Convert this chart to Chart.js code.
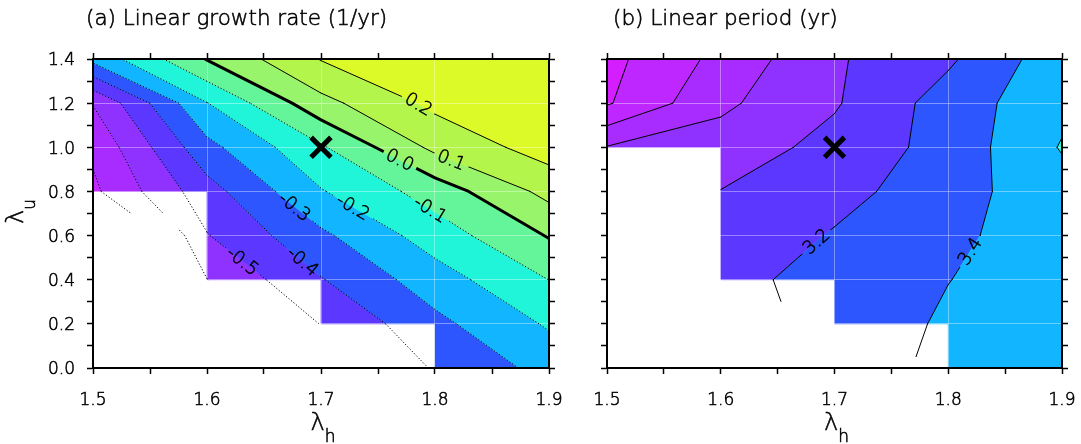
<!DOCTYPE html>
<html><head><meta charset="utf-8"><title>Linear growth rate and linear period</title>
<script src="https://cdn.jsdelivr.net/npm/chart.js@4.4.1/dist/chart.umd.min.js"></script>
<style>
html,body{margin:0;padding:0;background:#fff;}
body{width:1081px;height:444px;position:relative;overflow:hidden;}
canvas{position:absolute;top:0;}
#chartA{left:0;}
#chartB{left:560px;}
</style></head><body>
<canvas id="chartA" width="590" height="444"></canvas>
<canvas id="chartB" width="521" height="444"></canvas>
<script>
// ---------------- data ----------------
const lambdaH = [1.5, 1.6, 1.7, 1.8, 1.9];
const lambdaU = [0.0, 0.2, 0.4, 0.6, 0.8, 1.0, 1.2, 1.4];
const hTickLabels = ['1.5', '1.6', '1.7', '1.8', '1.9'];
const uTickLabels = ['0.0', '0.2', '0.4', '0.6', '0.8', '1.0', '1.2', '1.4'];

// (a) linear growth rate (1/yr); rows follow lambdaU, columns follow lambdaH
const growthRate = [
  [-1.20, -0.71, -0.480, -0.395, -0.265],
  [-1.10, -0.66, -0.497, -0.326, -0.188],
  [-0.75, -0.602, -0.406, -0.246, -0.099],
  [-0.99, -0.505, -0.320, -0.151, 0.007],
  [-0.72, -0.440, -0.207, -0.055, 0.131],
  [-0.68, -0.330, -0.113, 0.125, 0.246],
  [-0.595, -0.203, 0.069, 0.225, 0.290],
  [-0.270, 0.005, 0.205, 0.280, 0.292]
];
const growthLevels = [-0.7, -0.6, -0.5, -0.4, -0.3, -0.2, -0.1, 0.0, 0.1, 0.2];
const growthLabelLevels = [0.2, 0.1, 0.0, -0.1, -0.2, -0.3, -0.4, -0.5];
const growthFillFrom = [0.8, 0.4, 0.2, 0.0];   // lowest shaded lambda_u per lambda_h column
const growthLineFrom = [0.7, 0.7, 0.7, 0.4, 0.4, 0.4, 0.2, 0.2, 0.2, 0.2, 0.0, 0.0, 0.0, 0.0, 0.0, 0.0]; // lowest contoured lambda_u per quarter column

// (b) linear period (yr)
const period = [
  [3.10, 3.19, 3.25, 3.47, 3.55],
  [3.10, 3.17, 3.22, 3.44, 3.55],
  [3.05, 3.089, 3.33, 3.395, 3.55],
  [2.99, 3.04, 3.218, 3.33, 3.58],
  [2.95, 3.005, 3.127, 3.324, 3.52],
  [2.81, 2.887, 3.064, 3.273, 3.615],
  [2.38, 2.76, 2.98, 3.29, 3.546],
  [2.34, 2.656, 2.976, 3.168, 3.525]
];
const periodLevels = [2.4, 2.6, 2.8, 3.0, 3.2, 3.4, 3.6];
const periodLabelLevels = [3.2, 3.4];
const periodFillFrom = [1.0, 0.4, 0.2, 0.0];
const periodLineFrom = [1.0, 1.0, 1.0, 1.0, 0.3, 0.3, 0.3, 0.3, 0.2, 0.2, 0.05, 0.05, 0.0, 0.0, 0.0, 0.0];

// reference experiment marker
const markerH = [1.7];
const markerU = [1.0];

// ---------------- helpers ----------------
const FONT = '"DejaVu Sans", "Liberation Sans", Arial, sans-serif';
const THIN = '300 ';
const STROKE = 0.55;
Chart.defaults.font.family = FONT;
Chart.defaults.color = '#000';

function near(a, b) { return Math.abs(a - b) < 1e-6; }
function tickLabel(list, v) { for (const s of list) if (near(parseFloat(s), v)) return s; return ''; }
function fmt(v) { return (Math.abs(v) < 1e-9 ? 0 : v).toFixed(1); }

function thinText(ctx, s, x, y) {
  ctx.fillText(s, x, y);
  ctx.lineWidth = STROKE;
  ctx.strokeStyle = '#000';
  ctx.strokeText(s, x, y);
}

function cellCorners(Z, i, j) {
  const x0 = lambdaH[i], x1 = lambdaH[i + 1], y0 = lambdaU[j], y1 = lambdaU[j + 1];
  return [[x0, y0, Z[j][i]], [x1, y0, Z[j][i + 1]], [x1, y1, Z[j + 1][i + 1]], [x0, y1, Z[j + 1][i]]];
}

function bandPolygon(P, lo, hi) {
  const poly = [];
  for (let e = 0; e < 4; e++) {
    const A = P[e], B = P[(e + 1) % 4];
    if (A[2] >= lo && A[2] < hi) poly.push([A[0], A[1]]);
    const cr = [];
    for (const L of [lo, hi]) {
      if (!isFinite(L)) continue;
      if ((A[2] - L) * (B[2] - L) < 0) {
        const t = (L - A[2]) / (B[2] - A[2]);
        cr.push([t, A[0] + t * (B[0] - A[0]), A[1] + t * (B[1] - A[1])]);
      }
    }
    cr.sort((a, b) => a[0] - b[0]);
    for (const c of cr) poly.push([c[1], c[2]]);
  }
  return poly;
}

function contourSegments(Z, level) {
  const segs = [];
  for (let j = 0; j < lambdaU.length - 1; j++) for (let i = 0; i < lambdaH.length - 1; i++) {
    const P = cellCorners(Z, i, j);
    const pts = [];
    for (let e = 0; e < 4; e++) {
      const A = P[e], B = P[(e + 1) % 4];
      if ((A[2] - level) * (B[2] - level) < 0) {
        const t = (level - A[2]) / (B[2] - A[2]);
        pts.push([A[0] + t * (B[0] - A[0]), A[1] + t * (B[1] - A[1])]);
      } else pts.push(null);
    }
    const got = pts.filter(p => p);
    if (got.length === 2) segs.push(got);
    else if (got.length === 4) {
      const c = (P[0][2] + P[1][2] + P[2][2] + P[3][2]) / 4;
      if ((c - level) * (P[0][2] - level) > 0) { segs.push([pts[0], pts[1]]); segs.push([pts[2], pts[3]]); }
      else { segs.push([pts[3], pts[0]]); segs.push([pts[1], pts[2]]); }
    }
  }
  return segs;
}

function placeLabel(segs, hx, uy, X, Y) {
  const px = X(hx), py = Y(uy);
  let best = null, bd = Infinity;
  for (const [p, q] of segs) {
    const ax = X(p[0]), ay = Y(p[1]), bx = X(q[0]), by = Y(q[1]);
    const dx = bx - ax, dy = by - ay, L2 = dx * dx + dy * dy;
    if (L2 < 1e-9) continue;
    let t = ((px - ax) * dx + (py - ay) * dy) / L2;
    t = Math.max(0, Math.min(1, t));
    const cx = ax + t * dx, cy = ay + t * dy, d = (cx - px) ** 2 + (cy - py) ** 2;
    if (d < bd) { bd = d; best = { cx, cy, ang: Math.atan2(dy, dx) }; }
  }
  if (best) {
    let a = best.ang;
    if (a > Math.PI / 2) a -= Math.PI;
    if (a <= -Math.PI / 2) a += Math.PI;
    best.ang = a;
  }
  return best;
}

function drawFill(chart, cfg) {
  const { ctx, scales: { x, y } } = chart;
  const lv = cfg.levels;
  ctx.save();
  for (let i = 0; i < lambdaH.length - 1; i++) for (let j = 0; j < lambdaU.length - 1; j++) {
    if (lambdaU[j] < cfg.fillFrom[i] - 1e-9) continue;
    const P = cellCorners(cfg.values, i, j);
    for (let k = 0; k <= lv.length; k++) {
      const lo = k === 0 ? -Infinity : lv[k - 1], hi = k === lv.length ? Infinity : lv[k];
      const poly = bandPolygon(P, lo, hi);
      if (poly.length < 3) continue;
      ctx.beginPath();
      poly.forEach((p, n) => {
        const px = x.getPixelForValue(p[0]), py = y.getPixelForValue(p[1]);
        if (n) ctx.lineTo(px, py); else ctx.moveTo(px, py);
      });
      ctx.closePath();
      ctx.fillStyle = cfg.colors[k];
      ctx.fill();
      ctx.strokeStyle = cfg.colors[k];
      ctx.lineWidth = 0.6;
      ctx.stroke();
    }
  }
  ctx.restore();
}

function drawContours(chart, cfg) {
  const { ctx, chartArea: a, scales: { x, y } } = chart;
  const X = v => x.getPixelForValue(v), Y = v => y.getPixelForValue(v);
  const segsAll = cfg.levels.map(L => contourSegments(cfg.values, L));
  const labels = [];
  ctx.save();
  ctx.font = cfg.labelFont;
  cfg.labelLevels.forEach((lev, n) => {
    const idx = cfg.levels.findIndex(L => near(L, lev));
    const anchor = cfg.labelAnchors[n];
    const pl = placeLabel(segsAll[idx], anchor[0], anchor[1], X, Y);
    if (!pl) return;
    pl.text = fmt(lev);
    pl.w = ctx.measureText(pl.text).width;
    labels.push(pl);
  });
  ctx.restore();

  ctx.save();
  ctx.beginPath();
  ctx.rect(a.left, a.top, a.right - a.left, a.bottom - a.top);
  ctx.clip();
  // region where contour lines are traced
  const n = cfg.lineFrom.length;
  const h0 = lambdaH[0], h1 = lambdaH[lambdaH.length - 1], dh = (h1 - h0) / n;
  const topU = lambdaU[lambdaU.length - 1];
  const yf = f => Y(f) + (f <= 0 ? 3 : 0);
  ctx.beginPath();
  ctx.moveTo(X(h0) - 3, Y(topU) - 3);
  ctx.lineTo(X(h1) + 3, Y(topU) - 3);
  for (let i = n - 1; i >= 0; i--) {
    ctx.lineTo(X(h0 + dh * (i + 1)) + (i === n - 1 ? 3 : 0), yf(cfg.lineFrom[i]));
    ctx.lineTo(X(h0 + dh * i) - (i === 0 ? 3 : 0), yf(cfg.lineFrom[i]));
  }
  ctx.closePath();
  ctx.clip();
  // gaps around labels
  ctx.beginPath();
  ctx.rect(0, 0, chart.width, chart.height);
  for (const L of labels) {
    const hw = L.w / 2 + cfg.labelPad, hh = cfg.labelSize * 0.5;
    const c = Math.cos(L.ang), s = Math.sin(L.ang);
    const cs = [[-hw, -hh], [hw, -hh], [hw, hh], [-hw, hh]].map(([u, v]) => [L.cx + u * c - v * s, L.cy + u * s + v * c]);
    ctx.moveTo(cs[0][0], cs[0][1]);
    for (let m = 1; m < 4; m++) ctx.lineTo(cs[m][0], cs[m][1]);
    ctx.closePath();
  }
  ctx.clip('evenodd');
  cfg.levels.forEach((L, k) => {
    const st = cfg.lineStyle(L);
    ctx.beginPath();
    for (const [p, q] of segsAll[k]) { ctx.moveTo(X(p[0]), Y(p[1])); ctx.lineTo(X(q[0]), Y(q[1])); }
    ctx.lineWidth = st.width;
    ctx.setLineDash(st.dash);
    ctx.lineCap = st.dash.length ? 'butt' : 'round';
    ctx.strokeStyle = '#000';
    ctx.stroke();
  });
  ctx.restore();

  ctx.save();
  ctx.fillStyle = '#000';
  ctx.font = cfg.labelFont;
  ctx.textAlign = 'center';
  ctx.textBaseline = 'middle';
  for (const L of labels) {
    ctx.save();
    ctx.translate(L.cx, L.cy);
    ctx.rotate(L.ang);
    thinText(ctx, L.text, 0, 1);
    ctx.restore();
  }
  ctx.restore();
}

function drawSub(ctx, main, sub, cx, base) {
  ctx.font = THIN + '24px ' + FONT;
  const w1 = ctx.measureText(main).width;
  ctx.font = THIN + '17px ' + FONT;
  const w2 = ctx.measureText(sub).width;
  const x0 = cx - (w1 + w2) / 2 + 2;
  ctx.font = THIN + '24px ' + FONT;
  thinText(ctx, main, x0, base);
  ctx.font = THIN + '17px ' + FONT;
  thinText(ctx, sub, x0 + w1, base + 12);
}

function drawTexts(chart, cfg) {
  const { ctx, chartArea: a } = chart;
  ctx.save();
  ctx.fillStyle = '#000';
  ctx.textAlign = 'left';
  ctx.textBaseline = 'alphabetic';
  ctx.font = THIN + '21.5px ' + FONT;
  thinText(ctx, cfg.title, a.left + cfg.titleDx, 25);
  drawSub(ctx, 'λ', 'h', (a.left + a.right) / 2, 430);
  if (cfg.yTitle) {
    ctx.save();
    ctx.translate(23, (a.top + a.bottom) / 2);
    ctx.rotate(-Math.PI / 2);
    drawSub(ctx, 'λ', 'u', 0, 0);
    ctx.restore();
  }
  ctx.restore();
}

function scaleCfg(axis, position, showLabels, size, onArea) {
  const isX = axis === 'x';
  const min = isX ? lambdaH[0] : lambdaU[0];
  const max = isX ? lambdaH[lambdaH.length - 1] : lambdaU[lambdaU.length - 1];
  const labels = isX ? hTickLabels : uTickLabels;
  return {
    type: 'linear', axis, position, min, max,
    ticks: {
      stepSize: isX ? 0.05 : 0.1, autoSkip: false, maxRotation: 0, minRotation: 0,
      font: { size: 17, family: FONT, weight: '300' }, color: '#000',
      textStrokeColor: '#000', textStrokeWidth: STROKE,
      padding: isX ? 16 : 12,
      labelOffset: isX ? 0 : 2,
      callback: v => showLabels ? tickLabel(labels, v) : ''
    },
    grid: {
      display: true, drawOnChartArea: onArea, drawTicks: true,
      tickLength: 6, tickWidth: 1.5, tickColor: '#000', lineWidth: 1,
      color: c => (c.tick && tickLabel(labels, c.tick.value) !== '' && !near(c.tick.value, min) && !near(c.tick.value, max))
        ? 'rgba(255,255,255,0.35)' : 'rgba(0,0,0,0)'
    },
    border: { display: true, color: '#000', width: 2, z: 1 },
    afterFit: s => {
      if (isX) { s.height = size; s.paddingLeft = 0; s.paddingRight = 0; }
      else { s.width = size; s.paddingTop = 0; s.paddingBottom = 0; }
    }
  };
}

function makeChart(id, cfg) {
  const plugin = {
    id: 'contour_' + id,
    beforeDraw: c => drawFill(c, cfg),
    beforeDatasetsDraw: c => drawContours(c, cfg),
    afterDraw: c => drawTexts(c, cfg)
  };
  const chart = new Chart(document.getElementById(id), {
    type: 'scatter',
    data: {
      datasets: [{
        data: markerH.map((h, k) => ({ x: h, y: markerU[k] })),
        pointStyle: 'crossRot', pointRadius: 14, pointHoverRadius: 14,
        borderWidth: 5, borderColor: '#000', backgroundColor: '#000',
        xAxisID: 'x', yAxisID: 'y'
      }]
    },
    options: {
      responsive: false, animation: false, events: [],
      layout: { padding: { left: 0, right: 0, top: 0, bottom: 0 }, autoPadding: false },
      plugins: { legend: { display: false }, title: { display: false }, tooltip: { enabled: false } },
      scales: {
        x: scaleCfg('x', 'bottom', true, 76, true),
        x2: scaleCfg('x', 'top', false, 59, false),
        y: scaleCfg('y', 'left', cfg.yLabels, cfg.leftSize, true),
        y2: scaleCfg('y', 'right', false, cfg.rightSize, false)
      }
    },
    plugins: [plugin]
  });
  // make sure the plotting box sits exactly where the frame should be
  for (let k = 0; k < 3; k++) {
    const a = chart.chartArea, p = chart.options.layout.padding, t = cfg.frame;
    const dl = a.left - t.left, dr = t.right - a.right, dt = a.top - t.top, db = t.bottom - a.bottom;
    if (Math.abs(dl) < 0.5 && Math.abs(dr) < 0.5 && Math.abs(dt) < 0.5 && Math.abs(db) < 0.5) break;
    p.left -= dl; p.right -= dr; p.top -= dt; p.bottom -= db;
    chart.update('none');
  }
  return chart;
}

makeChart('chartA', {
  title: '(a) Linear growth rate (1/yr)', titleDx: -7, yTitle: true, yLabels: true,
  leftSize: 93, rightSize: 41, frame: { left: 93, right: 549, top: 59, bottom: 368 },
  values: growthRate, levels: growthLevels,
  colors: ['#c626ff', '#a82bff', '#8f31ff', '#5b37ff', '#2d56ff', '#12b5ff', '#20f5d9', '#64f59b', '#98f56b', '#b4f54b', '#dcfa28'],
  fillFrom: growthFillFrom, lineFrom: growthLineFrom,
  lineStyle: L => near(L, 0) ? { width: 3, dash: [] } : (L < 0 ? { width: 1, dash: [1.2, 2] } : { width: 1, dash: [] }),
  labelLevels: growthLabelLevels,
  labelAnchors: [[1.785, 1.19], [1.815, 0.95], [1.77, 0.95], [1.795, 0.71], [1.73, 0.745], [1.673, 0.706], [1.686, 0.495], [1.632, 0.49]],
  labelFont: THIN + '18px ' + FONT, labelSize: 18, labelPad: 4
});

makeChart('chartB', {
  title: '(b) Linear period (yr)', titleDx: 6, yTitle: false, yLabels: false,
  leftSize: 47, rightSize: 19, frame: { left: 47, right: 502, top: 59, bottom: 368 },
  values: period, levels: periodLevels,
  colors: ['#d41eff', '#be27ff', '#a82bff', '#8f31ff', '#5b37ff', '#2d56ff', '#12b5ff', '#20f5d9'],
  fillFrom: periodFillFrom, lineFrom: periodLineFrom,
  lineStyle: () => ({ width: 1, dash: [] }),
  labelLevels: periodLabelLevels,
  labelAnchors: [[1.685, 0.567], [1.817, 0.535]],
  labelFont: THIN + '18px ' + FONT, labelSize: 18, labelPad: 4
});
</script>
</body></html>
